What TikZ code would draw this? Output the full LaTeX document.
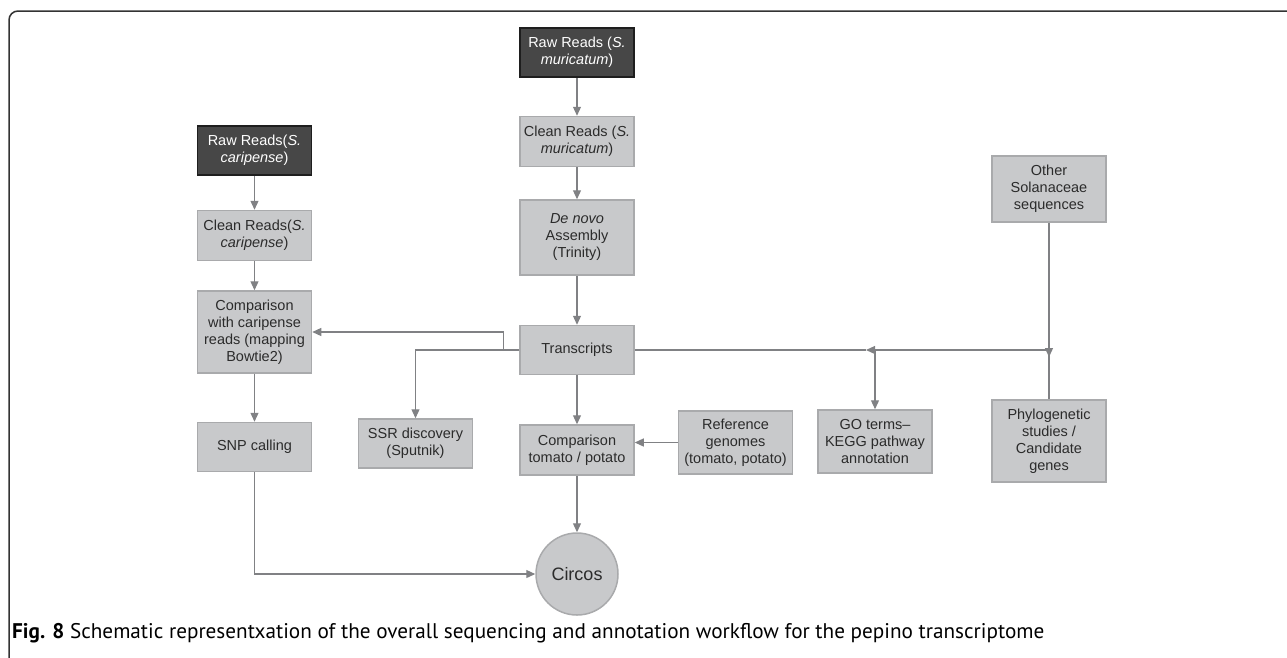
\documentclass[tikz,border=0pt]{standalone}
\usepackage{fontspec}
\setmainfont{Liberation Sans}
\newfontfamily\captionfont{PT Sans}
\usepackage{xcolor}
\definecolor{BoxGray}{HTML}{C8C9CB}
\definecolor{BoxEdge}{HTML}{A9AAAC}
\definecolor{DarkGray}{HTML}{474747}
\definecolor{DarkEdge}{HTML}{1E1E1E}
\definecolor{ArrowGray}{HTML}{808184}
\definecolor{TextGray}{HTML}{2B2B2B}
\definecolor{FrameGray}{HTML}{333333}
\usepackage{tikz}
\usetikzlibrary{arrows.meta, positioning, calc}
\tikzset{
  % Box styles
  rawbox/.style={rectangle, draw=DarkEdge, fill=DarkGray, text=white, line width=1.5pt, minimum width=114pt, minimum height=49pt, inner sep=2pt, font=\fontsize{14.5}{17}\selectfont, align=center},
  stepbox/.style={rectangle, draw=BoxEdge, fill=BoxGray, text=TextGray, line width=1.5pt, minimum width=114pt, minimum height=49pt, inner sep=2pt, font=\fontsize{14.5}{17}\selectfont, align=center},
  circbox/.style={circle, draw=BoxEdge, fill=BoxGray, text=TextGray, line width=1.5pt, minimum size=82pt, font=\fontsize{18}{20}\selectfont},
  % Arrow styles
  arrow/.style={-{Triangle[length=9pt, width=8pt]}, line width=1.2pt, ArrowGray},
  plainline/.style={line width=1.2pt, ArrowGray}
}
\begin{document}
\begin{tikzpicture}[x=1pt, y=-1pt]
  \useasboundingbox (0,0) rectangle (1287,657);

  % Frame
  \draw[FrameGray, line width=1.5pt, rounded corners=9pt] (9,660) -- (9,11) -- (1290,11);

  % Muricatum column
  \node[rawbox] (rawM) at (577,52.5) {Raw Reads (\textit{S.}\\\textit{muricatum})};
  \node[stepbox, below=38pt of rawM, minimum height=50pt] (cleanM) {Clean Reads (\textit{S.}\\\textit{muricatum})};
  \node[stepbox, below=32pt of cleanM, minimum height=75pt] (denovo) {\textit{De novo}\\Assembly\\(Trinity)};
  \node[stepbox, below=49pt of denovo] (trans) {Transcripts};
  \node[stepbox, below=49pt of trans, minimum height=50pt] (cmpT) {Comparison\\tomato / potato};
  \node[circbox] (circos) at (577,574) {Circos};

  % Caripense column
  \node[rawbox] (rawC) at (254.5,150.5) {Raw Reads(\textit{S.}\\\textit{caripense})};
  \node[stepbox, below=34pt of rawC, minimum height=50pt] (cleanC) {Clean Reads(\textit{S.}\\\textit{caripense})};
  \node[stepbox, below=29pt of cleanC, minimum height=82pt] (cmpC) {Comparison\\with caripense\\reads (mapping\\Bowtie2)};
  \node[stepbox, below=48pt of cmpC] (snp) {SNP calling};

  % Other analyses
  \node[stepbox] (ssr) at (415.5,443.5) {SSR discovery\\(Sputnik)};
  \node[stepbox, minimum height=63pt] (refg) at (735.5,442.5) {Reference\\genomes\\(tomato, potato)};
  \node[stepbox, minimum height=63pt] (go) at (875,441.5) {GO terms--\\KEGG pathway\\annotation};
  \node[stepbox, minimum height=82pt] (phylo) at (1049,441) {Phylogenetic\\studies /\\Candidate\\genes};
  \node[stepbox, minimum height=66pt] (other) at (1049,189) {Other\\Solanaceae\\sequences};

  % Junctions
  \coordinate (jr) at (other.south |- trans.east);
  \coordinate (jg) at (go.north |- trans.east);

  % Arrows
  \draw[arrow] (rawM) -- (cleanM);
  \draw[arrow] (cleanM) -- (denovo);
  \draw[arrow] (denovo) -- (trans);
  \draw[arrow] (trans) -- (cmpT);
  \draw[arrow] (cmpT) -- (circos);

  \draw[arrow] (rawC) -- (cleanC);
  \draw[arrow] (cleanC) -- (cmpC);
  \draw[arrow] (cmpC) -- (snp);
  \draw[arrow] (snp.south) |- (circos.west);

  \draw[arrow] (trans.west) -- ++(-16,0) |- (cmpC.east);
  \draw[arrow] (trans.west) -| (ssr.north);
  \draw[arrow] (refg.west) -- (refg.west -| cmpT.east);

  \draw[plainline] (trans.east) -- ([xshift=-9pt]jg);
  \draw[arrow] (jr) -- ([xshift=-9pt]jg);
  \draw[arrow] (jg) -- (go.north);
  \draw[plainline] (other.south) -- (phylo.north);
  \draw[arrow] (other.south) -- ([yshift=-7pt]jr);

  % Caption
  \node[anchor=base west, inner sep=0pt, font=\captionfont\fontsize{21.2}{23}\selectfont] (caption) at (12,638) {\textbf{Fig. 8} Schematic representxation of the overall sequencing and annotation workflow for the pepino transcriptome};
\end{tikzpicture}
\end{document}
